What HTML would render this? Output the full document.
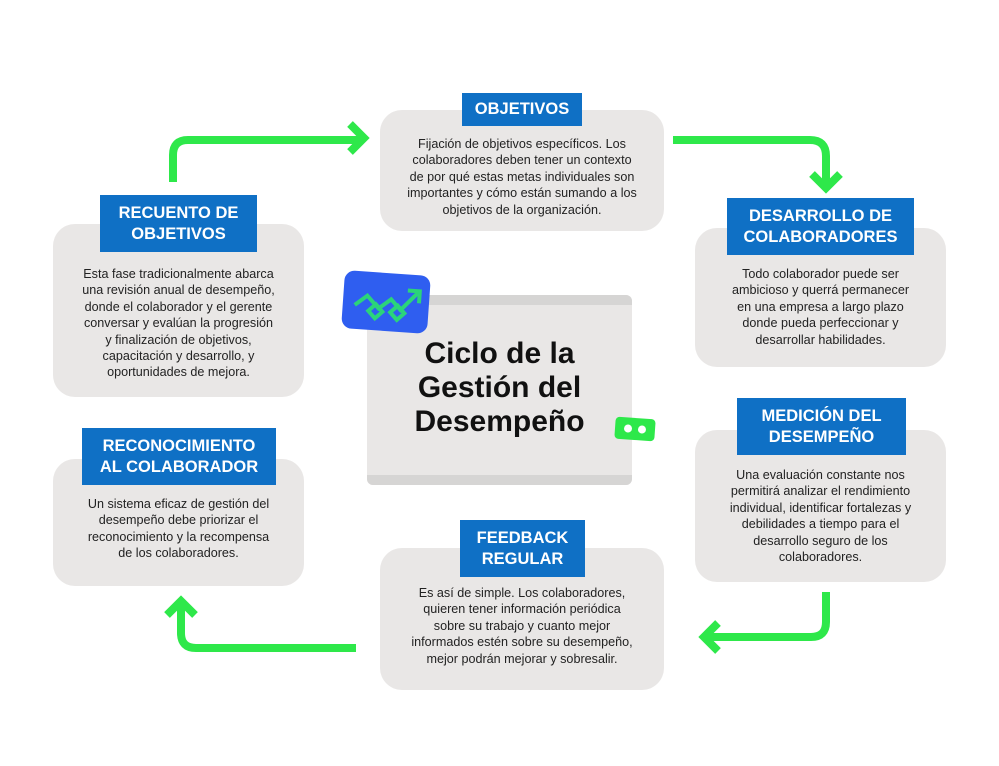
<!DOCTYPE html>
<html><head><meta charset="utf-8"><style>
body{margin:0;width:999px;height:766px;background:#fff;position:relative;overflow:hidden;font-family:"Liberation Sans",sans-serif}
.card{position:absolute;background:#e9e7e6;border-radius:22px;box-sizing:border-box;text-align:center;color:#222;font-size:12.6px;line-height:16.4px}
.lab{position:absolute;background:#0f70c5;color:#fff;font-weight:bold;font-size:16.5px;line-height:21px;text-align:center;display:flex;align-items:center;justify-content:center;box-sizing:border-box}
.t{position:absolute;left:0;right:0}
</style></head><body>
<svg width="999" height="766" style="position:absolute;left:0;top:0" fill="none" stroke="#2ee84a" stroke-width="8" stroke-linecap="butt" stroke-linejoin="miter">
<path d="M173 182 V155 Q173 140 188 140 H360"/><path d="M350 124 L364 138 L350 152"/>
<path d="M673 140 H810 Q826 140 826 156 V186"/><path d="M812 174 L826 188 L840 174"/>
<path d="M826 592 V622 Q826 637 811 637 H706"/><path d="M718 623 L704 637 L718 651"/>
<path d="M356 648 H196 Q181 648 181 633 V603"/><path d="M167 615 L181 601 L195 615"/>
</svg>

<div class="card" style="left:380px;top:110px;width:284px;height:121px"><div class="t" style="top:26px">Fijación de objetivos específicos. Los<br>colaboradores deben tener un contexto<br>de por qué estas metas individuales son<br>importantes y cómo están sumando a los<br>objetivos de la organización.</div></div>
<div class="lab" style="left:462px;top:93px;width:120px;height:33px">OBJETIVOS</div>

<div class="card" style="left:695px;top:228px;width:251px;height:139px"><div class="t" style="top:38px">Todo colaborador puede ser<br>ambicioso y querrá permanecer<br>en una empresa a largo plazo<br>donde pueda perfeccionar y<br>desarrollar habilidades.</div></div>
<div class="lab" style="left:727px;top:198px;width:187px;height:57px">DESARROLLO DE<br>COLABORADORES</div>

<div class="card" style="left:695px;top:430px;width:251px;height:152px"><div class="t" style="top:37px">Una evaluación constante nos<br>permitirá analizar el rendimiento<br>individual, identificar fortalezas y<br>debilidades a tiempo para el<br>desarrollo seguro de los<br>colaboradores.</div></div>
<div class="lab" style="left:737px;top:398px;width:169px;height:57px">MEDICIÓN DEL<br>DESEMPEÑO</div>

<div class="card" style="left:380px;top:548px;width:284px;height:142px"><div class="t" style="top:37px">Es así de simple. Los colaboradores,<br>quieren tener información periódica<br>sobre su trabajo y cuanto mejor<br>informados estén sobre su desempeño,<br>mejor podrán mejorar y sobresalir.</div></div>
<div class="lab" style="left:460px;top:520px;width:125px;height:57px">FEEDBACK<br>REGULAR</div>

<div class="card" style="left:53px;top:459px;width:251px;height:127px"><div class="t" style="top:37px">Un sistema eficaz de gestión del<br>desempeño debe priorizar el<br>reconocimiento y la recompensa<br>de los colaboradores.</div></div>
<div class="lab" style="left:82px;top:428px;width:194px;height:57px">RECONOCIMIENTO<br>AL COLABORADOR</div>

<div class="card" style="left:53px;top:224px;width:251px;height:173px"><div class="t" style="top:42px">Esta fase tradicionalmente abarca<br>una revisión anual de desempeño,<br>donde el colaborador y el gerente<br>conversar y evalúan la progresión<br>y finalización de objetivos,<br>capacitación y desarrollo, y<br>oportunidades de mejora.</div></div>
<div class="lab" style="left:100px;top:195px;width:157px;height:57px">RECUENTO DE<br>OBJETIVOS</div>

<div style="position:absolute;left:367px;top:295px;width:265px;height:190px;background:#e9e7e6;border-radius:6px;overflow:hidden">
<div style="position:absolute;left:0;right:0;top:0;height:10px;background:#d6d5d4"></div>
<div style="position:absolute;left:0;right:0;bottom:0;height:10px;background:#d6d5d4"></div>
<div style="position:absolute;left:0;right:0;top:42px;text-align:center;font-weight:bold;font-size:30px;line-height:34px;color:#111">Ciclo de la<br>Gestión del<br>Desempeño</div>
</div>
<div style="position:absolute;left:343px;top:273px;width:86px;height:58px;background:#2f5ef0;border-radius:10px;transform:rotate(4deg)">
<svg width="86" height="58" fill="none" stroke="#2bd47a" stroke-width="4"><path d="M12 34 L24 24 L36 36 L48 26 L58 36 L74 18"/><path d="M64 16 L76 16 L76 28"/><rect x="28" y="34" width="10" height="10" transform="rotate(45 33 39)"/><rect x="50" y="34" width="10" height="10" transform="rotate(45 55 39)"/></svg>
</div>
<div style="position:absolute;left:615px;top:418px;width:40px;height:22px;background:#2ee84a;border-radius:4px;transform:rotate(4deg)">
<div style="position:absolute;left:9px;top:7px;width:8px;height:8px;border-radius:50%;background:#fff"></div>
<div style="position:absolute;left:23px;top:7px;width:8px;height:8px;border-radius:50%;background:#fff"></div>
</div>
</body></html>
